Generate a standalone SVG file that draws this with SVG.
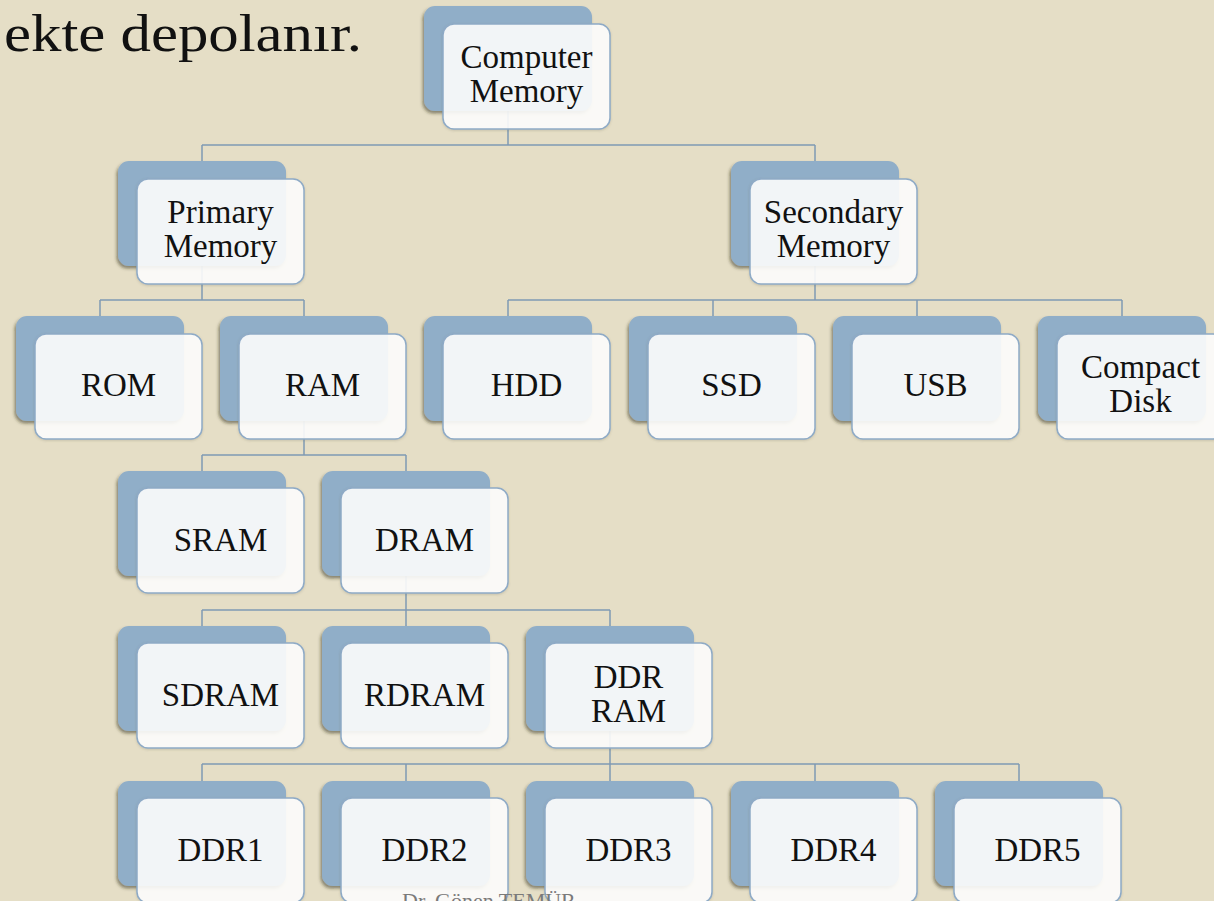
<svg xmlns="http://www.w3.org/2000/svg" width="1214" height="901" viewBox="0 0 1214 901">
  <defs>
    <filter id="backShadow" x="-10%" y="-10%" width="120%" height="130%">
      <feDropShadow dx="-1.5" dy="2.5" stdDeviation="1.8" flood-color="#2b2618" flood-opacity="0.5"/>
    </filter>
    <filter id="frontShadow" x="-10%" y="-10%" width="120%" height="130%">
      <feDropShadow dx="0" dy="1" stdDeviation="1" flood-color="#6b6550" flood-opacity="0.25"/>
    </filter>
  </defs>
  <style>
    .back { fill: #90AEC8; filter: url(#backShadow); }
    .front { fill: #ffffff; fill-opacity: 0.88; stroke: #8EAAC6; stroke-width: 1.5; filter: url(#frontShadow); }
    .label { font-family: "Liberation Serif", "DejaVu Serif", serif; font-size: 33px; fill: #111; text-anchor: middle; }
    .conn { fill: none; stroke: #7F9AB4; stroke-width: 1.5; }
    .heading { font-family: "Liberation Serif", "DejaVu Serif", serif; font-size: 52px; fill: #111; }
    .footer { font-family: "Liberation Serif", "DejaVu Serif", serif; font-size: 22px; fill: #7a7a7a; }
  </style>

  <rect x="0" y="0" width="1214" height="901" fill="#E5DEC6"/>

  <text class="heading" x="4" y="51" textLength="358" lengthAdjust="spacingAndGlyphs">ekte depolanır.</text>

  <!-- elbow connectors: parent back-box bottom centre to child back-box top centre -->
  <g id="connectors">
    <path class="conn" d="M508 111 V145 M202 145 H815 M202 145 V161 M815 145 V161"/>
    <path class="conn" d="M202 266 V300 M100 300 H304 M100 300 V316 M304 300 V316"/>
    <path class="conn" d="M815 266 V300 M508 300 H1122 M508 300 V316 M713 300 V316 M917 300 V316 M1122 300 V316"/>
    <path class="conn" d="M304 421 V455 M202 455 H406 M202 455 V471 M406 455 V471"/>
    <path class="conn" d="M406 576 V610 M202 610 H610 M202 610 V626 M406 610 V626 M610 610 V626"/>
    <path class="conn" d="M610 731 V764 M202 764 H1019 M202 764 V781 M406 764 V781 M610 764 V781 M815 764 V781 M1019 764 V781"/>
  </g>

  <!-- row 0 -->
  <g id="computer-memory">
    <rect class="back" x="424" y="6" width="168" height="105" rx="11"/>
    <rect class="front" x="443" y="24" width="167" height="105" rx="11"/>
    <text class="label" x="526.5" y="68">Computer</text>
    <text class="label" x="526.5" y="102">Memory</text>
  </g>

  <!-- row 1 -->
  <g id="primary-memory">
    <rect class="back" x="118" y="161" width="168" height="105" rx="11"/>
    <rect class="front" x="137" y="179" width="167" height="105" rx="11"/>
    <text class="label" x="220.5" y="223">Primary</text>
    <text class="label" x="220.5" y="257">Memory</text>
  </g>
  <g id="secondary-memory">
    <rect class="back" x="731" y="161" width="168" height="105" rx="11"/>
    <rect class="front" x="750" y="179" width="167" height="105" rx="11"/>
    <text class="label" x="833.5" y="223">Secondary</text>
    <text class="label" x="833.5" y="257">Memory</text>
  </g>

  <!-- row 2 -->
  <g id="rom">
    <rect class="back" x="16" y="316" width="168" height="105" rx="11"/>
    <rect class="front" x="35" y="334" width="167" height="105" rx="11"/>
    <text class="label" x="118.5" y="396">ROM</text>
  </g>
  <g id="ram">
    <rect class="back" x="220" y="316" width="168" height="105" rx="11"/>
    <rect class="front" x="239" y="334" width="167" height="105" rx="11"/>
    <text class="label" x="322.5" y="396">RAM</text>
  </g>
  <g id="hdd">
    <rect class="back" x="424" y="316" width="168" height="105" rx="11"/>
    <rect class="front" x="443" y="334" width="167" height="105" rx="11"/>
    <text class="label" x="526.5" y="396">HDD</text>
  </g>
  <g id="ssd">
    <rect class="back" x="629" y="316" width="168" height="105" rx="11"/>
    <rect class="front" x="648" y="334" width="167" height="105" rx="11"/>
    <text class="label" x="731.5" y="396">SSD</text>
  </g>
  <g id="usb">
    <rect class="back" x="833" y="316" width="168" height="105" rx="11"/>
    <rect class="front" x="852" y="334" width="167" height="105" rx="11"/>
    <text class="label" x="935.5" y="396">USB</text>
  </g>
  <g id="compact-disk">
    <rect class="back" x="1038" y="316" width="168" height="105" rx="11"/>
    <rect class="front" x="1057" y="334" width="167" height="105" rx="11"/>
    <text class="label" x="1140.5" y="378">Compact</text>
    <text class="label" x="1140.5" y="412">Disk</text>
  </g>

  <!-- row 3 -->
  <g id="sram">
    <rect class="back" x="118" y="471" width="168" height="105" rx="11"/>
    <rect class="front" x="137" y="488" width="167" height="105" rx="11"/>
    <text class="label" x="220.5" y="551">SRAM</text>
  </g>
  <g id="dram">
    <rect class="back" x="322" y="471" width="168" height="105" rx="11"/>
    <rect class="front" x="341" y="488" width="167" height="105" rx="11"/>
    <text class="label" x="424.5" y="551">DRAM</text>
  </g>

  <!-- row 4 -->
  <g id="sdram">
    <rect class="back" x="118" y="626" width="168" height="105" rx="11"/>
    <rect class="front" x="137" y="643" width="167" height="105" rx="11"/>
    <text class="label" x="220.5" y="706">SDRAM</text>
  </g>
  <g id="rdram">
    <rect class="back" x="322" y="626" width="168" height="105" rx="11"/>
    <rect class="front" x="341" y="643" width="167" height="105" rx="11"/>
    <text class="label" x="424.5" y="706">RDRAM</text>
  </g>
  <g id="ddr-ram">
    <rect class="back" x="526" y="626" width="168" height="105" rx="11"/>
    <rect class="front" x="545" y="643" width="167" height="105" rx="11"/>
    <text class="label" x="628.5" y="688">DDR</text>
    <text class="label" x="628.5" y="722">RAM</text>
  </g>

  <!-- row 5 -->
  <g id="ddr1">
    <rect class="back" x="118" y="781" width="168" height="105" rx="11"/>
    <rect class="front" x="137" y="798" width="167" height="105" rx="11"/>
    <text class="label" x="220.5" y="861">DDR1</text>
  </g>
  <g id="ddr2">
    <rect class="back" x="322" y="781" width="168" height="105" rx="11"/>
    <rect class="front" x="341" y="798" width="167" height="105" rx="11"/>
    <text class="label" x="424.5" y="861">DDR2</text>
  </g>
  <g id="ddr3">
    <rect class="back" x="526" y="781" width="168" height="105" rx="11"/>
    <rect class="front" x="545" y="798" width="167" height="105" rx="11"/>
    <text class="label" x="628.5" y="861">DDR3</text>
  </g>
  <g id="ddr4">
    <rect class="back" x="731" y="781" width="168" height="105" rx="11"/>
    <rect class="front" x="750" y="798" width="167" height="105" rx="11"/>
    <text class="label" x="833.5" y="861">DDR4</text>
  </g>
  <g id="ddr5">
    <rect class="back" x="935" y="781" width="168" height="105" rx="11"/>
    <rect class="front" x="954" y="798" width="167" height="105" rx="11"/>
    <text class="label" x="1037.5" y="861">DDR5</text>
  </g>

  <text class="footer" x="402" y="908">Dr. Gönen TEMÜR</text>
</svg>
